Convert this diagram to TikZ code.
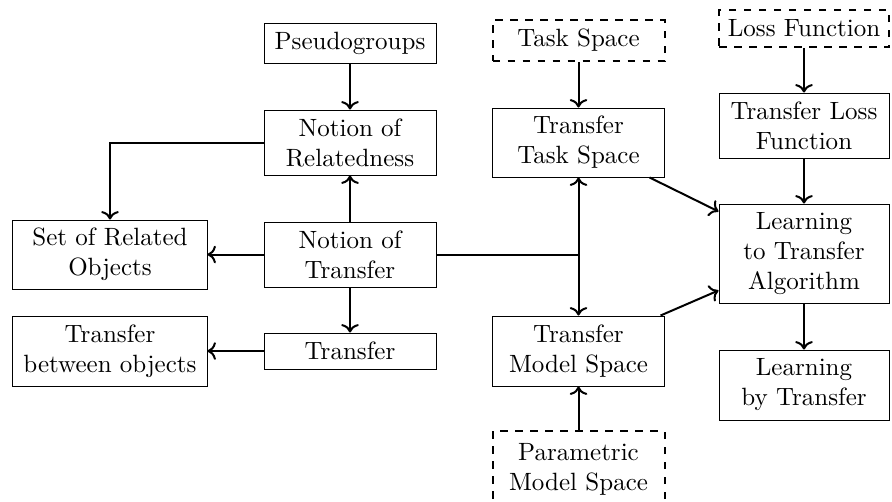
\documentclass[tikz,border=0pt]{standalone}
\usetikzlibrary{arrows.meta}
\begin{document}
\begin{tikzpicture}[x=0.4pt,y=-0.4pt,
  box/.style={draw,align=center,inner sep=0pt,minimum width=68.8pt},
  dbox/.style={box,thick,dashed},
  conn/.style={thick,->}]
\useasboundingbox (0,0) rectangle (892,501);
\node[box,minimum height=16pt] (pg) at (350,43) {Pseudogroups};
\node[box,minimum height=26pt] (nr) at (350,142.5) {Notion of\\Relatedness};
\node[box,minimum height=26pt] (nt) at (350,254.5) {Notion of\\Transfer};
\node[box,minimum height=14.4pt] (tr) at (350,351) {Transfer};
\node[box,minimum width=77.6pt,minimum height=27.6pt] (sr) at (110,254.5) {Set of Related\\Objects};
\node[box,minimum width=77.6pt,minimum height=28pt] (tb) at (110,351) {Transfer\\between objects};
\node[dbox,minimum height=16.4pt] (ts) at (578.5,40.5) {Task Space};
\node[box,minimum height=27.6pt] (tts) at (578.5,142.5) {Transfer\\Task Space};
\node[box,minimum height=28pt] (tms) at (578.5,351) {Transfer\\Model Space};
\node[dbox,minimum height=30.4pt] (pms) at (578.5,469) {Parametric\\Model Space};
\node[dbox,minimum width=68pt,minimum height=14.8pt] (lf) at (804,28.5) {Loss Function};
\node[box,minimum width=68pt,minimum height=26pt] (tlf) at (804,125.5) {Transfer Loss\\Function};
\node[box,minimum width=68pt,minimum height=39.6pt] (lta) at (804,253.5) {Learning\\to Transfer\\Algorithm};
\node[box,minimum width=68pt,minimum height=28pt] (lbt) at (804,385) {Learning\\by Transfer};
\coordinate (j) at (578.5,254.5);
\draw[conn] (pg) -- (nr);
\draw[conn] (nr.west) -| (sr.north);
\draw[conn] (nt) -- (nr);
\draw[conn] (nt) -- (sr);
\draw[conn] (nt) -- (tr);
\draw[conn] (tr) -- (tb);
\draw[thick] (nt.east) -- (j);
\draw[conn] (j) -- (tts);
\draw[conn] (j) -- (tms);
\draw[conn] (ts) -- (tts);
\draw[conn] (pms) -- (tms);
\draw[conn] (lf) -- (tlf);
\draw[conn] (tlf) -- (lta);
\draw[conn] (tts) -- (lta);
\draw[conn] (tms) -- (lta);
\draw[conn] (lta) -- (lbt);
\end{tikzpicture}
\end{document}
